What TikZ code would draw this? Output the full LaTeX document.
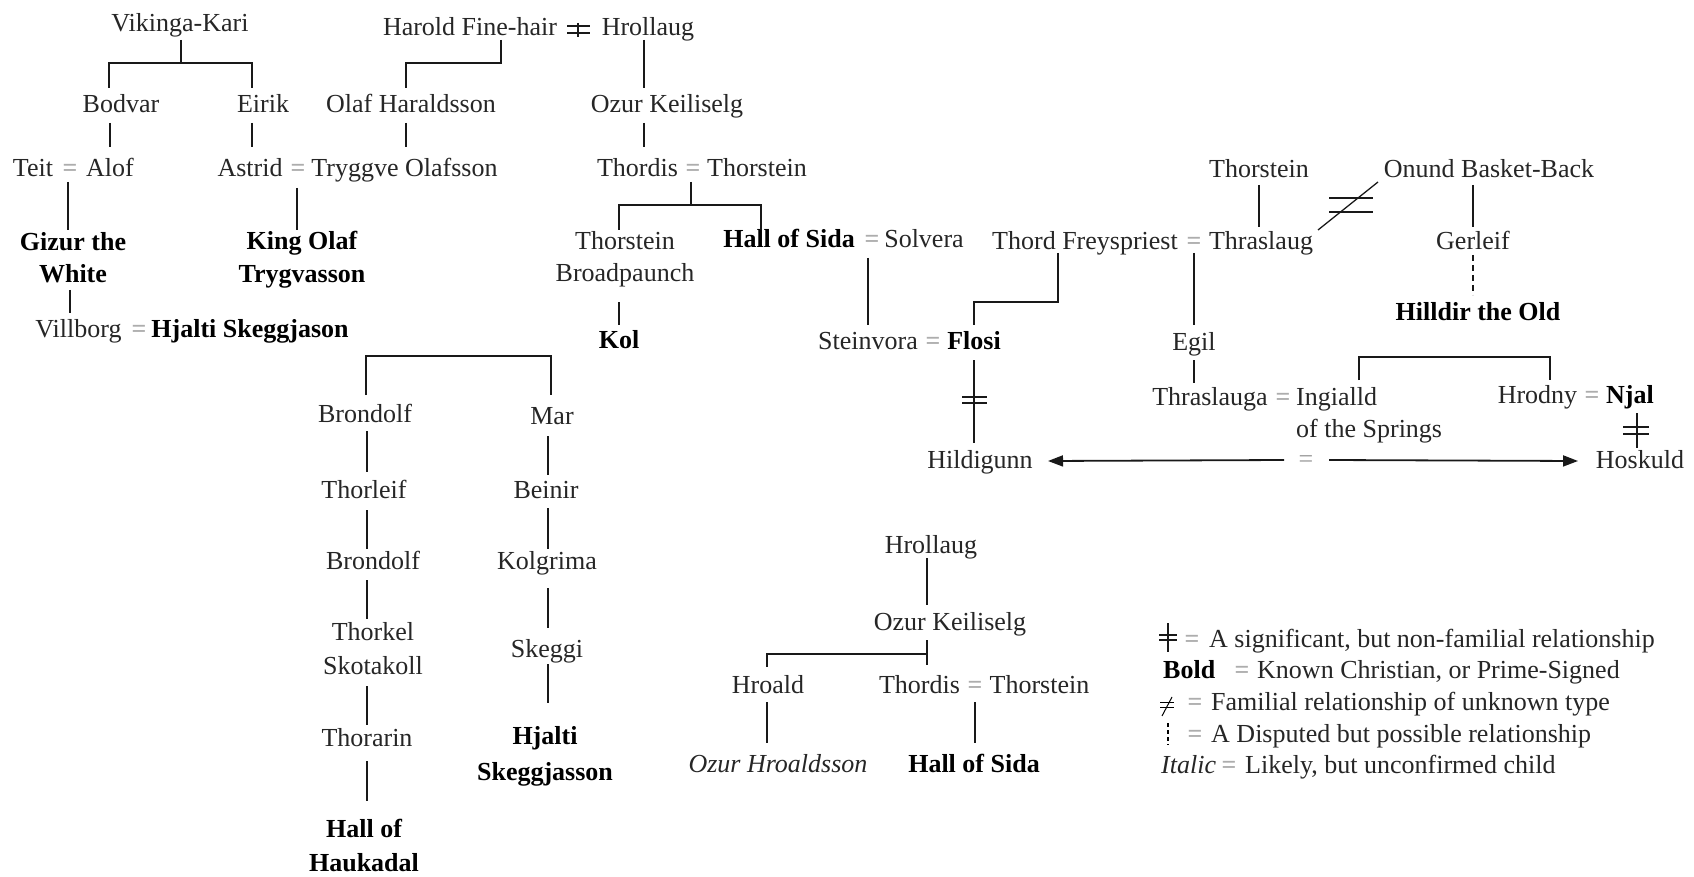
\documentclass[tikz,border=0pt]{standalone}
\usepackage{fontspec}
\setmainfont{Liberation Serif}
\usetikzlibrary{calc,arrows.meta}
\newcommand\myfs{\fontsize{26}{34}\selectfont}
\begin{document}
\begin{tikzpicture}[x=1pt,y=-1pt,
  pn/.style={anchor=base, inner sep=0pt, text=black!85, font=\myfs},
  pb/.style={pn, text=black, font=\myfs\bfseries},
  pi/.style={pn, font=\myfs\itshape},
  eq/.style={pn, text=black!32, font=\myfs\bfseries},
  conn/.style={line width=1.8pt, black!90},
  thin/.style={line width=1.3pt, black!90},
  arr/.style={conn, -{Triangle[length=15pt,width=11pt]}}]
\fill[white] (0,0) rectangle (1694,877);
\useasboundingbox (0,0) rectangle (1694,877);
% ---------- top left ----------
\node[pn] (vk) at (180,32) {Vikinga-Kari};
\node[pn] (bodvar) at (121,113) {Bodvar};
\node[pn] (eirik) at (263,113) {Eirik};
\node[pn] (olafh) at (411,113) {Olaf Haraldsson};
\node[pn] (harold) at (470,36) {Harold Fine-hair};
\node[pn] (hrollaug) at (648,36) {Hrollaug};
\node[pn] (ozur) at (667,113) {Ozur Keiliselg};
\node[pn] (teit) at (33,177) {Teit};
\node[eq] (eq1) at (70,177) {=};
\node[pn] (alof) at (110,177) {Alof};
\node[pn] (astrid) at (250,177) {Astrid};
\node[eq] (eq2) at (298,177) {=};
\node[pn] (tryggve) at (404.5,177) {Tryggve Olafsson};
\node[pn] (thordis) at (637.5,177) {Thordis};
\node[eq] (eq3) at (693,177) {=};
\node[pn] (thorsteina) at (757,177) {Thorstein};
\node[pb] (gizur) at (73,251) {Gizur the};
\node[pb] (gizurb) at (73,283) {White};
\node[pb] (kingolaf) at (302,250) {King Olaf};
\node[pb] (kingolafb) at (302,283) {Trygvasson};
\node[pn] (villborg) at (78.5,337) {Villborg};
\node[eq] (eq4) at (139,337) {=};
\node[pb] (hjalti) at (250,337) {Hjalti Skeggjason};
\node[pn] (broad) at (625,250) {Thorstein};
\node[pn] (broadb) at (625,282) {Broadpaunch};
\node[pb] (kol) at (619,348) {Kol};
\node[pb] (hallsida) at (789,248) {Hall of Sida};
\node[eq] (eq5) at (872,248) {=};
\node[pn] (solvera) at (924,248) {Solvera};
% ---------- top right ----------
\node[pn] (thord) at (1085,250) {Thord Freyspriest};
\node[eq] (eq6) at (1194,250) {=};
\node[pn] (thraslaug) at (1261,250) {Thraslaug};
\node[pn] (thorsteinb) at (1259,178) {Thorstein};
\node[pn] (onund) at (1489,178) {Onund Basket-Back};
\node[pn] (gerleif) at (1473,250) {Gerleif};
\node[pb] (hilldir) at (1478,320) {Hilldir the Old};
\node[pn] (steinvora) at (868,349) {Steinvora};
\node[eq] (eq7) at (933,349) {=};
\node[pb] (flosi) at (974,349) {Flosi};
\node[pn] (egil) at (1194,350) {Egil};
\node[pn] (thraslauga) at (1210,405) {Thraslauga};
\node[eq] (eq8) at (1283,405) {=};
\node[pn, anchor=base west] (ingialld) at (1296,405) {Ingialld};
\node[pn, anchor=base west] (ingialldb) at (1296,437) {of the Springs};
\node[pn] (hrodny) at (1537.5,403) {Hrodny};
\node[eq] (eq9) at (1592,403) {=};
\node[pb] (njal) at (1630,403) {Njal};
\node[pn] (hildigunn) at (980,468) {Hildigunn};
\node[pn] (hoskuld) at (1640,468) {Hoskuld};
\node[pn, text=black!40] (eq10) at (1306,467) {=};
% ---------- lower left ----------
\node[pn] (brondolf) at (365,422) {Brondolf};
\node[pn] (mar) at (552,424) {Mar};
\node[pn] (thorleif) at (364,498) {Thorleif};
\node[pn] (beinir) at (546,498) {Beinir};
\node[pn] (brondolfb) at (373,569) {Brondolf};
\node[pn] (kolgrima) at (547,569) {Kolgrima};
\node[pn] (thorkel) at (373,640) {Thorkel};
\node[pn] (thorkelb) at (373,674) {Skotakoll};
\node[pn] (skeggi) at (547,657) {Skeggi};
\node[pn] (thorarin) at (367,746) {Thorarin};
\node[pb] (hjaltib) at (545,744) {Hjalti};
\node[pb] (hjaltibb) at (545,780) {Skeggjasson};
\node[pb] (hallh) at (364,837) {Hall of};
\node[pb] (hallhb) at (364,871) {Haukadal};
% ---------- lower middle ----------
\node[pn] (hrollaugb) at (931,553) {Hrollaug};
\node[pn] (ozurb) at (950,630) {Ozur Keiliselg};
\node[pn] (hroald) at (768,693) {Hroald};
\node[pn] (thordisb) at (919.5,693) {Thordis};
\node[eq] (eq11) at (975,693) {=};
\node[pn] (thorsteinc) at (1039.5,693) {Thorstein};
\node[pi] (ozurh) at (778,772) {Ozur Hroaldsson};
\node[pb] (hallsidab) at (974,772) {Hall of Sida};
% ---------- legend ----------
\node[eq] (l1eq) at (1192,647) {=};
\node[pn, anchor=base west] (l1) at (1209,647) {A significant, but non-familial relationship};
\node[pb, anchor=base west] (l2a) at (1163,678) {Bold};
\node[eq] (l2eq) at (1242,678) {=};
\node[pn, anchor=base west] (l2) at (1257,678) {Known Christian, or Prime-Signed};
\node[eq] (l3eq) at (1195,710) {=};
\node[pn, anchor=base west] (l3) at (1211,710) {Familial relationship of unknown type};
\node[eq] (l4eq) at (1195,742) {=};
\node[pn, anchor=base west] (l4) at (1211,742) {A Disputed but possible relationship};
\node[pi, anchor=base west] (l5a) at (1161,773) {Italic};
\node[eq] (l5eq) at (1229,773) {=};
\node[pn, anchor=base west] (l5) at (1245,773) {Likely, but unconfirmed child};
% ---------- connectors: top left ----------
\draw[conn] ($(vk.base)+(1,8)$) -- ++(0,23) -| ($(bodvar.base)+(-12,-25)$);
\draw[conn] ($(vk.base)+(1,31)$) -| ($(eirik.base)+(-11,-25)$);
\draw[conn] ($(harold.base)+(31,4)$) -- ++(0,23) -| ($(olafh.base)+(-5,-25)$);
\draw[conn] ($(bodvar.base)+(-11,10)$) -- ($(alof.base)+(0,-30)$);
\draw[conn] ($(eirik.base)+(-11,10)$) -- ($(astrid.base)+(2,-30)$);
\draw[conn] ($(olafh.base)+(-5,10)$) -- ($(tryggve.base)+(1.5,-30)$);
\draw[conn] ($(hrollaug.base)+(-4,4)$) -- ($(ozur.base)+(-23,-25)$);
\draw[conn] ($(ozur.base)+(-23,10)$) -- ($(thordis.base)+(6.5,-30)$);
\draw[conn] ($(eq1.base)+(-2,5)$) -- ($(gizur.base)+(-5,-21)$);
\draw[conn] ($(eq2.base)+(-1,11)$) -- ($(kingolaf.base)+(-5,-20)$);
\draw[conn] ($(eq3.base)+(-2,5)$) -- ++(0,23) -| ($(broad.base)+(-6,-20)$);
\draw[conn] ($(eq3.base)+(-2,28)$) -| ($(hallsida.base)+(-28,-18)$);
\draw[conn] ($(gizurb.base)+(-3,7)$) -- ($(villborg.base)+(-8.5,-24)$);
\draw[conn] ($(broadb.base)+(-6,20)$) -- ($(kol.base)+(0,-23)$);
\draw[conn] ($(eq5.base)+(-4,10)$) -- ($(steinvora.base)+(0,-24)$);
% harold -/- hrollaug mark
\draw[conn] ($(harold.base)+(108,-13)$) -- ++(0,14);
\draw[thin] ($(harold.base)+(97,-10)$) -- ++(23,0);
\draw[thin] ($(harold.base)+(97,-3)$) -- ++(23,0);
% ---------- connectors: top right ----------
\draw[conn] ($(thord.base)+(-27,3)$) -- ++(0,49) -| ($(flosi.base)+(0,-24)$);
\draw[conn] ($(thorsteinb.base)+(0,7)$) -- ($(thraslaug.base)+(-2,-23)$);
\draw[conn] ($(onund.base)+(-16,7)$) -- ($(gerleif.base)+(0,-23)$);
\draw[conn, dash pattern=on 6pt off 4pt] ($(gerleif.base)+(0,5)$) -- ($(hilldir.base)+(-5,-25)$);
\draw[conn] ($(eq6.base)+(0,3)$) -- ($(egil.base)+(0,-25)$);
\draw[conn] ($(egil.base)+(0,10)$) -- ($(thraslauga.base)+(-16,-22)$);
\draw[conn] ($(ingialld.base west)+(63,-25)$) -- ++(0,-23) -| ($(hrodny.base)+(12.5,-23)$);
% unknown familial relation mark
\draw[thin] ($(thraslaug.base)+(57,-20)$) -- ($(thraslaug.base)+(117,-68)$);
\draw[thin] ($(thraslaug.base)+(68,-52)$) -- ++(44,0);
\draw[thin] ($(thraslaug.base)+(68,-38)$) -- ++(44,0);
% flosi - hildigunn
\draw[conn] ($(flosi.base)+(0,11)$) -- ($(hildigunn.base)+(-6,-25)$);
\draw[thin] ($(flosi.base)+(-12,48)$) -- ++(25,0);
\draw[thin] ($(flosi.base)+(-12,54)$) -- ++(25,0);
% njal - hoskuld
\draw[conn] ($(njal.base)+(7,10)$) -- ($(hoskuld.base)+(-3,-20)$);
\draw[thin] ($(njal.base)+(-7,24)$) -- ++(26,0);
\draw[thin] ($(njal.base)+(-7,31)$) -- ++(26,0);
% arrows
\draw[arr] ($(eq10.base)+(-22,-7)$) -- ($(hildigunn.base)+(68,-7)$);
\draw[arr] ($(eq10.base)+(23,-7)$) -- ($(hoskuld.base)+(-62,-7)$);
% ---------- connectors: lower left ----------
\draw[conn] ($(brondolf.base)+(1,-27)$) |- ($(mar.base)+(-1,-68)$) -- ($(mar.base)+(-1,-29)$);
\draw[conn] ($(brondolf.base)+(2,9)$) -- ($(thorleif.base)+(3,-26)$);
\draw[conn] ($(thorleif.base)+(3,12)$) -- ($(brondolfb.base)+(-6,-20)$);
\draw[conn] ($(brondolfb.base)+(-6,11)$) -- ($(thorkel.base)+(-6,-21)$);
\draw[conn] ($(thorkelb.base)+(-6,12)$) -- ($(thorarin.base)+(0,-21)$);
\draw[conn] ($(thorarin.base)+(0,15)$) -- ($(hallh.base)+(3,-36)$);
\draw[conn] ($(mar.base)+(-4,12)$) -- ($(beinir.base)+(2,-23)$);
\draw[conn] ($(beinir.base)+(2,10)$) -- ($(kolgrima.base)+(1,-20)$);
\draw[conn] ($(kolgrima.base)+(1,19)$) -- ($(skeggi.base)+(1,-29)$);
\draw[conn] ($(skeggi.base)+(1,7)$) -- ($(hjaltib.base)+(3,-41)$);
% ---------- connectors: lower middle ----------
\draw[conn] ($(hrollaugb.base)+(-4,5)$) -- ($(ozurb.base)+(-23,-25)$);
\draw[conn] ($(ozurb.base)+(-23,10)$) -- ++(0,25);
\draw[conn] ($(ozurb.base)+(-23,24)$) -| ($(hroald.base)+(-1,-26)$);
\draw[conn] ($(hroald.base)+(-1,9)$) -- ($(ozurh.base)+(-11,-29)$);
\draw[conn] ($(eq11.base)+(0,9)$) -- ($(hallsidab.base)+(1,-29)$);
% ---------- legend symbols ----------
\draw[conn] ($(l1eq.base)+(-24,-24)$) -- ++(0,29);
\draw[thin] ($(l1eq.base)+(-33,-12)$) -- ++(18,0);
\draw[thin] ($(l1eq.base)+(-33,-7)$) -- ++(18,0);
\draw[line width=1pt] ($(l3eq.base)+(-35,-8)$) -- ++(14,0);
\draw[line width=1pt] ($(l3eq.base)+(-35,-3)$) -- ++(14,0);
\draw[line width=1pt] ($(l3eq.base)+(-33,6)$) -- ($(l3eq.base)+(-23,-13)$);
\draw[line width=1.3pt, dash pattern=on 4pt off 3pt] ($(l4eq.base)+(-27,-19)$) -- ++(0,22);
\end{tikzpicture}
\end{document}
